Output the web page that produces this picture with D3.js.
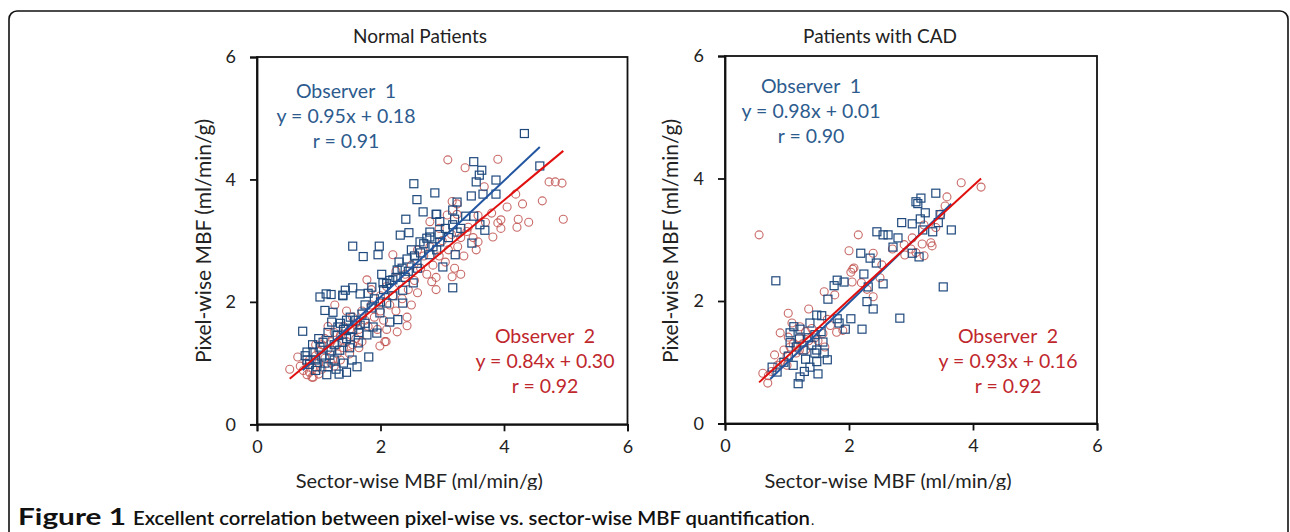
<!DOCTYPE html>
<html><head><meta charset="utf-8">
<script src="https://cdn.jsdelivr.net/npm/d3@7"></script>
<style>
html,body{margin:0;padding:0;background:#fff;}
svg{display:block;}
text{font-family:Lato,"Open Sans",sans-serif;}
</style></head>
<body>
<svg id="c" width="1290" height="532"></svg>
<script>
// ---------- data ----------
const axisTicks = [0, 2, 4, 6];
const panelTitles = ["Normal Patients", "Patients with CAD"];
const xAxisTitle = "Sector-wise MBF (ml/min/g)";
const yAxisTitle = "Pixel-wise MBF (ml/min/g)";

// Normal patients – Observer 1 (sector-wise, pixel-wise)
const normalObs1 = [
[4.33,4.75],[4.58,4.22],[3.51,4.29],[3.64,4.15],[3.60,4.07],[3.55,3.96],[3.87,3.99],[2.54,3.93],[2.88,3.78],[3.47,3.73],
[3.66,3.76],[3.87,3.76],[3.24,3.63],[2.59,3.67],[2.69,3.47],[2.90,3.43],[3.17,3.50],[3.38,3.40],[3.51,3.40],[3.61,3.26],
[3.69,3.17],[3.48,2.96],[3.17,3.26],[2.96,3.31],[2.80,3.14],[3.24,3.14],[2.75,3.04],[2.41,3.35],[2.91,3.43],[2.32,3.09],
[2.46,3.13],[1.55,2.91],[1.72,2.74],[1.98,2.91],[1.96,2.77],[2.64,2.98],[2.80,3.06],[2.96,2.98],[2.91,2.85],[2.80,2.77],
[2.43,2.70],[2.59,2.63],[3.01,2.57],[3.21,2.77],[3.17,2.23],[2.02,2.45],[2.04,2.31],[2.20,2.36],[1.86,2.24],[1.43,2.19],
[1.55,2.23],[1.39,2.10],[1.20,2.12],[2.36,2.19],[2.53,2.31],[2.27,2.52],[1.12,2.13],[1.02,2.08],[1.39,2.11],[1.67,2.13],
[1.80,2.14],[1.10,1.86],[1.23,1.83],[0.74,1.52],[1.21,1.67],[1.31,1.59],[1.51,1.75],[1.67,1.62],[1.78,1.46],[1.94,1.49],
[2.15,1.67],[2.28,1.71],[2.36,1.98],[1.99,1.82],[0.81,1.18],[0.91,1.18],[0.81,1.05],[1.02,1.26],[1.07,1.34],[1.18,1.13],
[1.34,1.21],[1.54,1.05],[1.81,1.10],[1.15,0.94],[1.13,0.81],[1.33,0.82],[0.97,0.94],[1.62,0.94],[1.51,1.43],[1.64,1.33],
[1.88,1.59],[2.10,1.98],[1.39,1.34],[0.85,0.98],[0.95,1.05],[1.05,1.10],[1.25,1.30],[1.30,1.45],[1.40,1.55],[1.45,1.40],
[1.60,1.70],[1.70,1.80],[1.75,1.95],[1.85,1.90],[1.90,2.05],[2.05,2.20],[2.15,2.35],[2.25,2.40],[2.35,2.55],[2.45,2.50],
[2.55,2.75],[2.65,2.80],[2.70,2.95],[2.85,2.90],[2.95,3.10],[3.05,3.20],[3.10,3.05],[3.20,3.35],[3.30,3.20],[1.00,1.40],
[1.15,1.50],[1.20,1.20],[1.35,1.65],[1.45,1.70],[1.55,1.55],[1.65,1.50],[1.75,1.65],[2.00,2.00],[2.10,2.30],[2.20,2.10],
[2.30,2.65],[2.40,2.40],[2.50,2.85],[2.60,2.55],[0.90,1.30],[0.95,0.88],[1.10,1.00],[1.25,1.05],[1.40,1.00],[1.50,1.25],
[0.78,1.12],[1.28,0.90],[1.45,0.85]
];
// Normal patients – Observer 2
const normalObs2 = [
[3.09,4.32],[3.90,4.33],[3.37,4.19],[3.68,3.88],[4.19,3.76],[4.73,3.96],[4.83,3.96],[4.94,3.94],[4.62,3.65],[4.96,3.35],
[4.23,3.35],[4.21,3.22],[3.95,3.34],[3.90,3.29],[3.82,3.06],[3.58,2.98],[3.16,3.64],[3.24,3.60],[3.08,3.42],[3.24,3.43],
[2.80,3.31],[3.42,3.22],[3.58,3.41],[2.20,2.77],[1.78,2.36],[2.27,1.51],[2.43,1.61],[2.07,1.35],[0.66,1.10],[0.53,0.90],
[0.91,0.77],[0.81,0.81],[3.16,2.41],[2.83,2.33],[1.99,1.28],[2.09,1.35],[2.43,1.75],[1.26,1.95],[0.89,0.77],[0.70,0.95],
[0.75,0.88],[0.80,1.00],[0.85,1.05],[0.90,0.92],[0.95,1.12],[1.00,1.00],[1.00,1.20],[1.05,1.30],[1.10,1.08],[1.10,1.40],
[1.15,1.22],[1.20,1.00],[1.20,1.35],[1.25,1.50],[1.30,1.15],[1.30,1.30],[1.35,1.45],[1.40,1.25],[1.40,1.60],[1.45,1.35],
[1.50,1.55],[1.50,1.15],[1.55,1.75],[1.60,1.40],[1.60,1.65],[1.65,1.55],[1.70,1.85],[1.70,1.35],[1.75,1.70],[1.80,1.60],
[1.85,1.95],[1.90,1.75],[1.95,1.55],[2.00,2.10],[2.00,1.85],[2.05,1.70],[2.10,2.25],[2.15,1.95],[2.20,2.10],[2.25,1.85],
[2.30,2.30],[2.35,2.05],[2.40,2.45],[2.45,2.20],[2.50,2.60],[2.55,2.35],[2.60,2.15],[2.65,2.55],[2.70,2.75],[2.75,2.45],
[2.80,2.90],[2.85,2.60],[2.90,2.40],[2.95,2.75],[3.00,3.00],[3.05,2.65],[3.10,2.85],[3.15,3.10],[3.20,2.55],[3.25,2.90],
[3.30,3.05],[3.35,2.75],[3.40,3.15],[3.50,3.05],[3.55,2.85],[3.70,3.30],[3.80,3.45],[3.95,3.20],[4.05,3.55],[4.30,3.60],
[4.40,3.30],[2.95,3.20],[2.60,2.85],[2.25,2.50],[1.85,2.20],[1.45,1.85],[1.15,1.60],[0.95,1.30],[1.05,0.90],[1.35,1.05],
[1.65,1.25],[2.10,1.55],[2.50,1.95],[2.90,2.20],[3.30,2.45],[1.25,0.95],[1.55,1.30],[0.85,0.85],[1.00,0.82]
];
// Patients with CAD – Observer 1
const cadObs1 = [
[0.82,2.33],[3.52,2.23],[2.82,1.72],[2.21,1.54],[2.03,1.71],[2.39,1.87],[2.29,1.99],[2.24,2.44],[2.31,2.23],[2.55,2.28],
[1.81,2.34],[1.92,2.31],[1.76,2.25],[1.66,2.03],[2.19,2.78],[2.34,2.70],[2.44,2.62],[3.13,2.72],[3.02,2.78],[3.35,3.13],
[3.65,3.16],[2.45,3.13],[2.55,3.08],[2.63,3.08],[2.79,3.03],[2.71,2.88],[1.48,1.77],[1.56,1.76],[1.37,1.64],[1.81,1.71],
[1.84,1.64],[1.94,1.54],[1.11,1.58],[1.21,1.54],[1.05,1.48],[1.05,1.32],[1.65,1.04],[1.48,1.01],[1.50,0.81],[1.37,0.92],
[1.21,0.76],[1.18,0.65],[0.76,0.92],[0.84,0.84],[1.45,1.15],[1.26,1.20],[1.58,1.33],[1.45,1.45],[3.40,3.76],[3.08,3.62],
[3.16,3.68],[3.11,3.59],[3.23,3.44],[3.15,3.34],[3.47,3.41],[2.85,3.28],[3.02,3.26],[3.19,3.16],[3.44,3.28],[1.02,1.10],
[1.15,1.25],[1.30,1.05],[1.40,1.28],[0.95,1.00],[1.10,0.95],[1.35,1.40],[1.20,1.38],[1.55,1.50],[1.48,1.20],[1.60,1.15],
[1.28,0.85]
];
// Patients with CAD – Observer 2
const cadObs2 = [
[0.55,3.08],[2.15,3.08],[2.00,2.82],[2.39,2.78],[2.08,2.54],[2.03,2.47],[2.50,2.38],[2.05,2.31],[2.39,2.07],[1.60,2.15],
[1.77,2.10],[1.35,1.87],[1.02,1.80],[1.08,1.64],[1.21,1.58],[1.80,1.49],[1.90,1.52],[1.58,1.47],[1.02,1.41],[1.61,1.25],
[0.61,0.82],[0.69,0.66],[3.02,3.03],[3.18,2.93],[3.32,2.95],[3.34,2.90],[3.08,2.79],[3.21,2.74],[2.89,2.92],[3.81,3.93],
[4.13,3.86],[3.58,3.70],[3.55,3.55],[3.48,3.42],[3.21,3.24],[2.53,2.59],[2.06,2.52],[2.29,2.19],[2.20,2.30],[0.89,1.48],
[0.80,1.12],[0.90,1.00],[0.95,1.20],[1.00,1.10],[1.05,1.25],[1.10,1.30],[1.15,1.15],[1.20,1.40],[1.25,1.30],[1.30,1.50],
[1.35,1.35],[1.40,1.55],[1.45,1.40],[1.50,1.35],[0.75,0.85],[0.85,0.95],[0.70,0.78],[1.00,0.95],[1.20,1.20],[1.30,1.20],
[1.65,1.70],[1.70,1.60],[2.70,2.85],[2.90,2.75],[3.00,2.85],[3.40,3.20]
];
// regression fits: [slope, intercept, xmin, xmax]
const normalFit1 = [0.95, 0.18, 0.74, 4.58];
const normalFit2 = [0.84, 0.30, 0.53, 4.96];
const cadFit1 = [0.98, 0.01, 0.73, 3.65];
const cadFit2 = [0.93, 0.16, 0.55, 4.13];
const normalText1 = ["Observer  1", "y = 0.95x + 0.18", "r = 0.91"];
const normalText2 = ["Observer  2", "y = 0.84x + 0.30", "r = 0.92"];
const cadText1 = ["Observer  1", "y = 0.98x + 0.01", "r = 0.90"];
const cadText2 = ["Observer  2", "y = 0.93x + 0.16", "r = 0.92"];
const captionBold = "Figure 1";
const captionText = "Excellent correlation between pixel-wise vs. sector-wise MBF quantification";

// ---------- drawing ----------
const svg = d3.select("#c");
const BLUE = "#1f497d", RED = "#c0504d", BLUE_LINE = "#2356a0", RED_LINE = "#e0100f";
const BLUE_TXT = "#2d5b8e", RED_TXT = "#c0272d";

// outer rounded frame
svg.append("rect").attr("x", 9).attr("y", 11).attr("width", 1279).attr("height", 600)
  .attr("rx", 8).attr("fill", "none").attr("stroke", "#111").attr("stroke-width", 1.6);

svg.append("defs").append("clipPath").attr("id", "figclip")
  .append("rect").attr("x", 0).attr("y", 0).attr("width", 1290).attr("height", 490);

const panels = [
  {x0: 257, x1: 627.5, y0: 424.3, y1: 57, title: panelTitles[0], tc: 420, yt: 211,
   o1: normalObs1, o2: normalObs2, f1: normalFit1, f2: normalFit2,
   t1: normalText1, t1x: 346, t1y: 98, t2: normalText2, t2x: 545, t2y: 343},
  {x0: 725, x1: 1097, y0: 423.5, y1: 56, title: panelTitles[1], tc: 880, yt: 678,
   o1: cadObs1, o2: cadObs2, f1: cadFit1, f2: cadFit2,
   t1: cadText1, t1x: 811, t1y: 93, t2: cadText2, t2x: 1008, t2y: 343}
];

panels.forEach(p => {
  const g = svg.append("g").attr("clip-path", "url(#figclip)");
  const x = d3.scaleLinear().domain([0, 6]).range([p.x0, p.x1]);
  const y = d3.scaleLinear().domain([0, 6]).range([p.y0, p.y1]);

  // frame
  g.append("rect").attr("x", p.x0).attr("y", p.y1).attr("width", p.x1 - p.x0).attr("height", p.y0 - p.y1)
    .attr("fill", "none").attr("stroke", "#111").attr("stroke-width", 1.8);

  const ax = g.append("g").attr("transform", `translate(0,${p.y0})`)
    .call(d3.axisBottom(x).tickValues(axisTicks).tickSize(7).tickPadding(9).tickFormat(d3.format("d")));
  const ay = g.append("g").attr("transform", `translate(${p.x0},0)`)
    .call(d3.axisLeft(y).tickValues(axisTicks).tickSize(7).tickPadding(14).tickFormat(d3.format("d")));
  [ax, ay].forEach(a => {
    a.select(".domain").attr("stroke", "#111").attr("stroke-width", 1.8);
    a.selectAll(".tick line").attr("stroke", "#111").attr("stroke-width", 1.8);
    a.selectAll(".tick text").attr("font-size", 18).attr("fill", "#222").attr("font-family", "Lato");
  });

  // points
  g.append("g").selectAll("circle").data(p.o2).join("circle")
    .attr("cx", d => x(d[0])).attr("cy", d => y(d[1])).attr("r", 4)
    .attr("fill", "none").attr("stroke", RED).attr("stroke-width", 1.1).attr("stroke-opacity", 0.85);
  g.append("g").selectAll("rect").data(p.o1).join("rect")
    .attr("x", d => x(d[0]) - 4).attr("y", d => y(d[1]) - 4).attr("width", 8).attr("height", 8)
    .attr("fill", "none").attr("stroke", BLUE).attr("stroke-width", 1.2);

  // fit lines
  const fitLine = (f, c) => g.append("line")
    .attr("x1", x(f[2])).attr("y1", y(f[0] * f[2] + f[1]))
    .attr("x2", x(f[3])).attr("y2", y(f[0] * f[3] + f[1]))
    .attr("stroke", c).attr("stroke-width", 2);
  fitLine(p.f1, BLUE_LINE);
  fitLine(p.f2, RED_LINE);

  // annotations
  const ann = (lines, cx, cy, col) => lines.forEach((t, i) => g.append("text")
    .attr("x", cx).attr("y", cy + i * 25).attr("text-anchor", "middle")
    .attr("font-size", 19.5).attr("fill", col).style("white-space", "pre").text(t));
  ann(p.t1, p.t1x, p.t1y, BLUE_TXT);
  ann(p.t2, p.t2x, p.t2y, RED_TXT);

  // titles
  g.append("text").attr("x", p.tc).attr("y", 43).attr("text-anchor", "middle")
    .attr("font-size", 19).attr("fill", "#222").text(p.title);
  g.append("text").attr("x", (p.x0 + p.x1) / 2 - 23).attr("y", 488).attr("text-anchor", "middle")
    .attr("font-size", 20).attr("fill", "#222").text(xAxisTitle);
  g.append("text").attr("transform", `translate(${p.yt},241) rotate(-90)`).attr("text-anchor", "middle")
    .attr("font-size", 21).attr("fill", "#222").text(yAxisTitle);
});

// caption
const cap = svg.append("g").attr("font-family", "'Open Sans'").attr("fill", "#111");
cap.append("text").attr("x", 18).attr("y", 525).attr("font-size", 22).attr("font-weight", 700)
  .attr("textLength", 108).attr("lengthAdjust", "spacingAndGlyphs").text(captionBold);
cap.append("text").attr("x", 133).attr("y", 525).attr("font-size", 20).attr("font-weight", 600)
  .attr("textLength", 677).attr("lengthAdjust", "spacingAndGlyphs").text(captionText);
cap.append("text").attr("x", 811).attr("y", 525).attr("font-size", 14).attr("font-weight", 400).text(".");
</script>
</body></html>
